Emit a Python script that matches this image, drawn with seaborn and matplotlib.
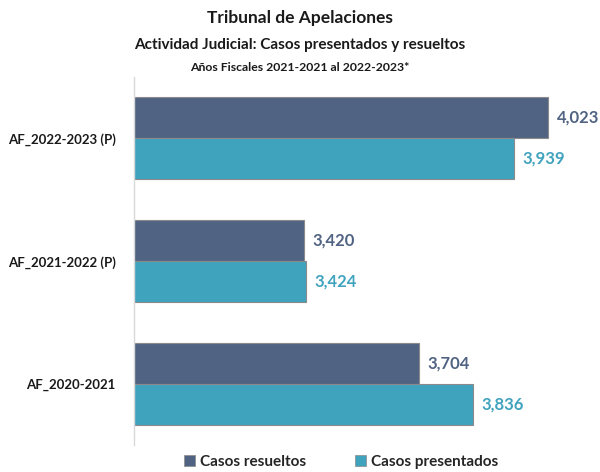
import matplotlib
matplotlib.use("Agg")
import matplotlib.pyplot as plt
import seaborn as sns
import pandas as pd
from matplotlib.patches import Patch

categories = ["AF_2022-2023 (P)", "AF_2021-2022 (P)", "AF_2020-2021"]
series_names = ["Casos resueltos", "Casos presentados"]
resueltos = [4023, 3420, 3704]
presentados = [3939, 3424, 3836]
colors = ["#506382", "#40A3BE"]

sns.set_theme(style="white")
plt.rcParams["font.family"] = ["Lato", "DejaVu Sans"]

df = pd.DataFrame({
    "cat": categories * 2,
    "serie": [series_names[0]] * 3 + [series_names[1]] * 3,
    "valor": resueltos + presentados,
})

fig = plt.figure(figsize=(6, 4.72), dpi=100)
ax = fig.add_axes([0.223, 0.057, 0.743, 0.780])
sns.barplot(data=df, y="cat", x="valor", hue="serie", order=categories,
            hue_order=series_names, palette=colors, orient="h", saturation=1,
            width=0.667, edgecolor="#8a8a8a", linewidth=0.8, ax=ax, legend=False)

ax.set_xlim(3000, 4100)
ax.set_ylim(2.5, -0.5)
ax.set_xlabel("")
ax.set_ylabel("")
ax.set_xticks([])
for s in ["top", "right", "bottom"]:
    ax.spines[s].set_visible(False)
ax.spines["left"].set_color("#d9d9d9")
ax.spines["left"].set_linewidth(1.0)
ax.tick_params(axis="y", length=0, pad=13)
for lab in ax.get_yticklabels():
    lab.set_fontweight("bold")
    lab.set_fontsize(9.5)
    lab.set_color("#1a1a1a")

for cont, col in zip(ax.containers, colors):
    labels = [f"{v:,.0f}" for v in cont.datavalues]
    ax.bar_label(cont, labels=labels, padding=6, color=col,
                 fontsize=12, fontweight="bold")

fig.text(0.5, 0.962, "Tribunal de Apelaciones", ha="center", va="center",
         fontsize=12.5, fontweight="bold", color="#1a1a1a")
fig.text(0.5, 0.905, "Actividad Judicial: Casos presentados y resueltos",
         ha="center", va="center", fontsize=11, fontweight="bold", color="#1a1a1a")
fig.text(0.5, 0.856, "Años Fiscales 2021-2021 al 2022-2023*", ha="center",
         va="center", fontsize=8.8, fontweight="bold", color="#1a1a1a")

handles = [Patch(facecolor=c, edgecolor="#8a8a8a", linewidth=0.5) for c in colors]
fig.legend(handles, series_names, loc="center", bbox_to_anchor=(0.568, 0.022),
           ncol=2, frameon=False, handlelength=0.75, handleheight=0.75,
           handletextpad=0.3, columnspacing=3.2,
           prop={"weight": "bold", "size": 11})

fig.savefig("out.png", dpi=100)
